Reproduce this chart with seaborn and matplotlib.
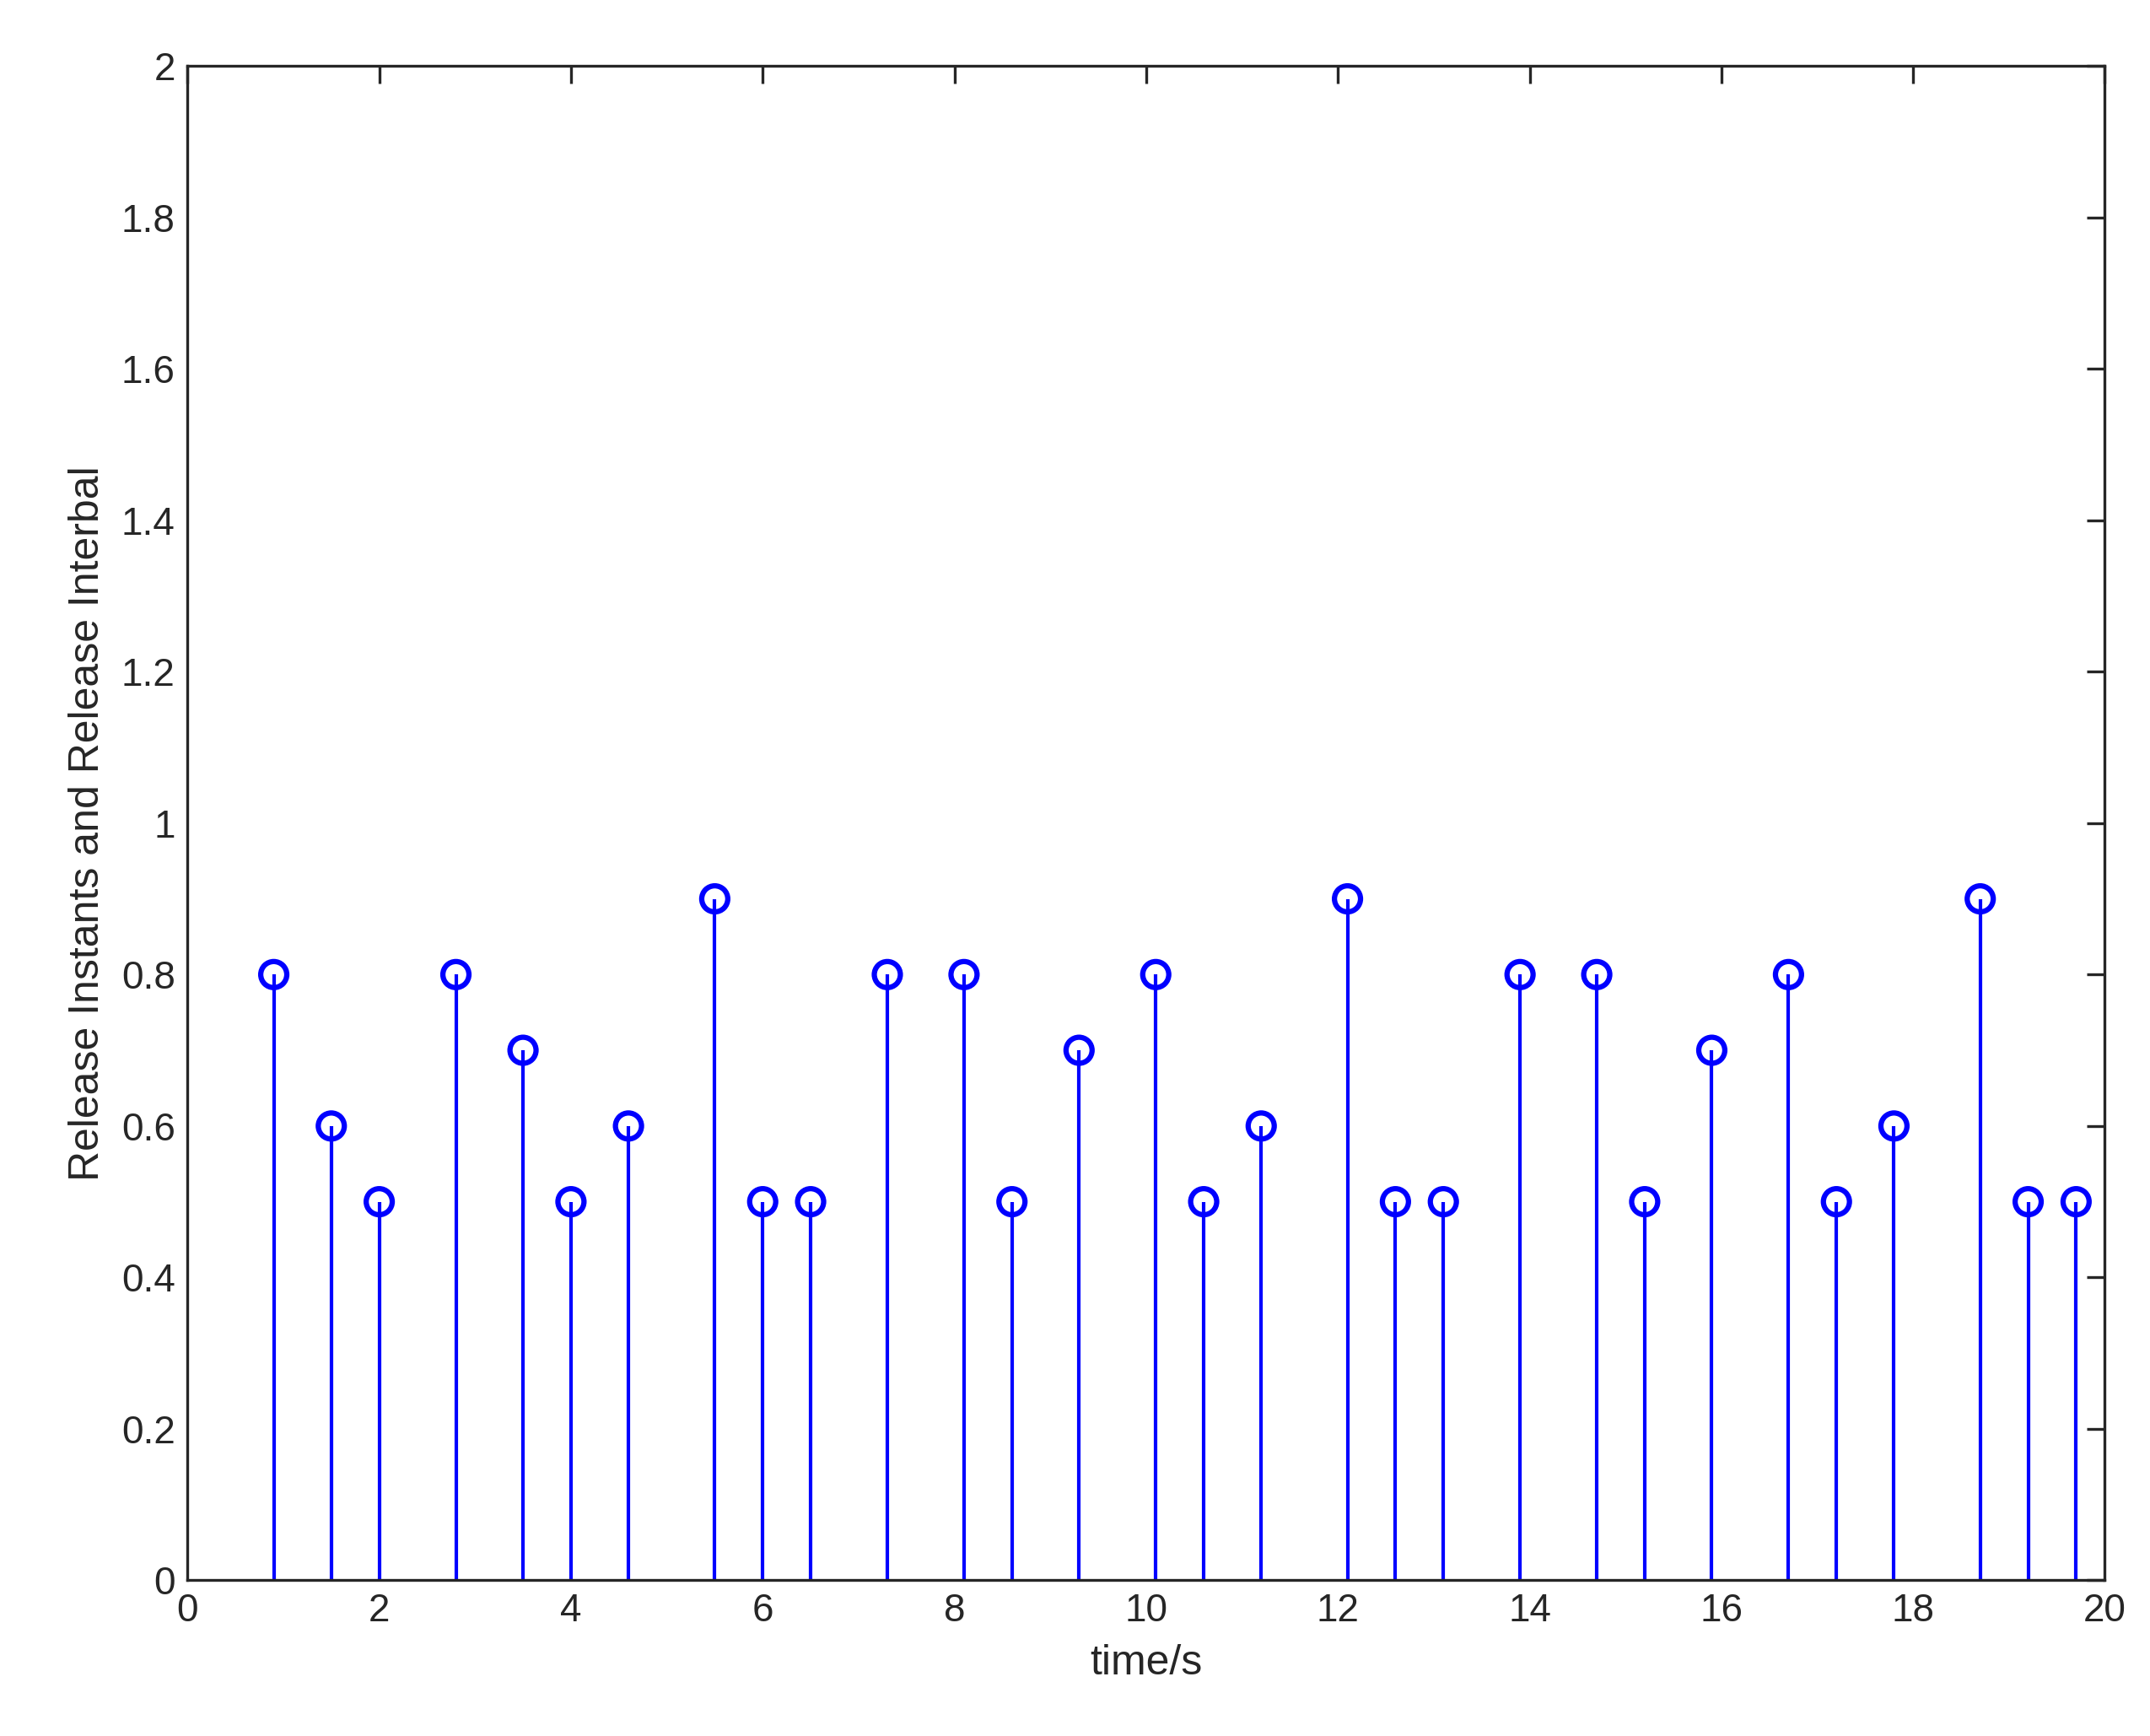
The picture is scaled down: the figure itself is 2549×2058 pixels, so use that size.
import matplotlib
matplotlib.use("Agg")
import matplotlib.pyplot as plt
import seaborn as sns
import pandas as pd

times = [0.9, 1.5, 2.0, 2.8, 3.5, 4.0, 4.6, 5.5, 6.0, 6.5, 7.3, 8.1, 8.6, 9.3, 10.1,
         10.6, 11.2, 12.1, 12.6, 13.1, 13.9, 14.7, 15.2, 15.9, 16.7, 17.2, 17.8, 18.7, 19.2, 19.7]
intervals = [0.8, 0.6, 0.5, 0.8, 0.7, 0.5, 0.6, 0.9, 0.5, 0.5, 0.8, 0.8, 0.5, 0.7, 0.8,
             0.5, 0.6, 0.9, 0.5, 0.5, 0.8, 0.8, 0.5, 0.7, 0.8, 0.5, 0.6, 0.9, 0.5, 0.5]
xticks = [0, 2, 4, 6, 8, 10, 12, 14, 16, 18, 20]
yticks = [0, 0.2, 0.4, 0.6, 0.8, 1, 1.2, 1.4, 1.6, 1.8, 2]
ytick_labels = ["0", "0.2", "0.4", "0.6", "0.8", "1", "1.2", "1.4", "1.6", "1.8", "2"]

sns.set_style("white")
plt.rcParams['font.family'] = ['Liberation Sans', 'DejaVu Sans']
df = pd.DataFrame({"t": times, "v": intervals})

fig = plt.figure(figsize=(2549/300, 2058/300), dpi=300)
ax = fig.add_axes([0.0872, 0.0897, 0.979-0.0872, 0.962-0.0897])
ax.vlines(df["t"], 0, df["v"], color="blue", linewidth=1.0)
sns.scatterplot(data=df, x="t", y="v", ax=ax, marker="o", s=55,
                facecolors="none", edgecolor="blue", linewidth=1.5, zorder=3)
ax.set_xlim(0, 20)
ax.set_ylim(0, 2)
ax.set_xticks(xticks)
ax.set_xticklabels([str(x) for x in xticks])
ax.set_yticks(yticks)
ax.set_yticklabels(ytick_labels)
ax.tick_params(direction="in", top=True, right=True, length=5, width=0.8,
               labelsize=11, colors="#262626", labelcolor="#262626")
for s in ax.spines.values():
    s.set_color("#262626")
    s.set_linewidth(0.8)
ax.set_xlabel("time/s", fontsize=12, color="#262626")
ax.set_ylabel("Release Instants and Release Interbal", fontsize=12, color="#262626")
fig.savefig("out.png", dpi=300)
